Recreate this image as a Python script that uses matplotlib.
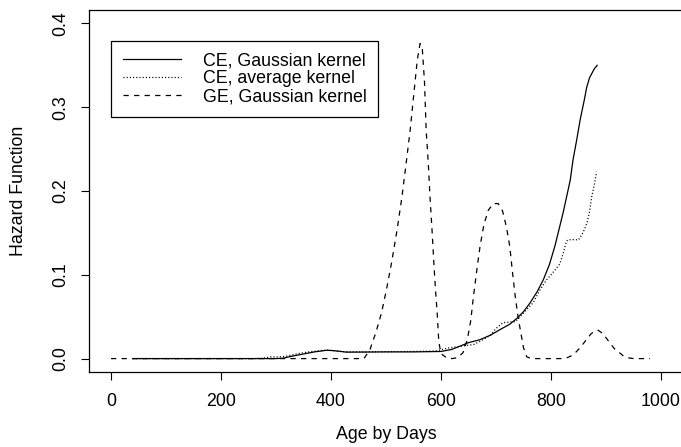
import matplotlib
matplotlib.use('Agg')
import matplotlib.pyplot as plt

plt.rcParams['font.family'] = ['Liberation Sans', 'DejaVu Sans']
plt.rcParams['lines.scale_dashes'] = False

# GE, Gaussian kernel (dashed)
ge_x = [0, 100, 200, 300, 400, 460, 471, 482, 492, 501, 510, 520, 529, 537, 544,
        552, 557, 562, 566, 570, 573, 577, 580, 584, 587, 590, 593, 596, 600, 610,
        620, 630, 640, 648, 654, 659, 665, 671, 678, 686, 695, 704, 712, 719, 725,
        730, 735, 740, 744, 750, 756, 765, 800, 820, 829, 836, 844, 853, 862, 872,
        880, 886, 894, 900, 907, 915, 925, 932, 940, 950, 965, 980]
ge_y = [0, 0, 0, 0, 0, 0, 0.011, 0.032, 0.055, 0.083, 0.114, 0.153, 0.193, 0.235, 0.273,
        0.325, 0.357, 0.376, 0.370, 0.330, 0.273, 0.232, 0.193, 0.150, 0.114, 0.082, 0.055, 0.020, 0.006, 0.001,
        0.000, 0.001, 0.007, 0.023, 0.045, 0.074, 0.105, 0.134, 0.160, 0.177, 0.185, 0.185, 0.176, 0.157, 0.134,
        0.103, 0.074, 0.050, 0.035, 0.013, 0.002, 0, 0, 0, 0.001, 0.003, 0.0068, 0.013, 0.0206, 0.029,
        0.0333, 0.0337, 0.030, 0.025, 0.0187, 0.012, 0.0068, 0.003, 0.001, 0, 0, 0]

# CE, Gaussian kernel (solid)
ceg_x = [40, 100, 200, 300, 313, 330, 350, 370, 392, 405, 428, 460, 500, 550, 600,
         620, 635, 650, 671, 690, 707, 725, 738, 750, 762, 775, 786, 797, 807, 816,
         822, 835, 840, 847, 853, 860, 865, 870, 874, 879, 884]
ceg_y = [0, 0, 0, 0, 0.0005, 0.003, 0.0055, 0.008, 0.0099, 0.0095, 0.0077, 0.0078, 0.008, 0.008, 0.0085,
         0.011, 0.015, 0.019, 0.0226, 0.028, 0.0345, 0.041, 0.048, 0.056, 0.0665, 0.080, 0.094, 0.112, 0.134, 0.158,
         0.174, 0.213, 0.237, 0.262, 0.285, 0.307, 0.324, 0.335, 0.340, 0.346, 0.350]

# CE, average kernel (dotted)
cea_x = [40, 100, 200, 260, 277, 290, 305, 320, 340, 360, 380, 395, 410, 430, 460,
         500, 550, 590, 616, 640, 660, 675, 690, 700, 713, 735, 744, 755, 768, 780,
         792, 800, 810, 816, 822, 828, 831, 840, 850, 858, 865, 870, 874, 878, 883]
cea_y = [0, 0, 0, 0, 0.0005, 0.002, 0.002, 0.003, 0.006, 0.008, 0.0095, 0.0102, 0.009, 0.008, 0.008,
         0.0082, 0.0085, 0.009, 0.013, 0.015, 0.017, 0.022, 0.028, 0.036, 0.043, 0.044, 0.050, 0.058, 0.067, 0.082,
         0.094, 0.100, 0.108, 0.113, 0.125, 0.140, 0.1417, 0.142, 0.1417, 0.150, 0.161, 0.175, 0.193, 0.205, 0.223]

x_ticks = [0, 200, 400, 600, 800, 1000]
y_ticks = [0.0, 0.1, 0.2, 0.3, 0.4]
y_tick_labels = ['0.0', '0.1', '0.2', '0.3', '0.4']

W, H = 681, 447
fig = plt.figure(figsize=(W / 100, H / 100), dpi=100)
# axes box: left 89px, right edge falls just outside the image, top 10px, bottom 372px
ax = fig.add_axes([89 / W, (H - 372) / H, (683 - 89) / W, (372 - 10) / H])

lw = 0.9
ax.plot(ceg_x, ceg_y, color='black', lw=lw, label='CE, Gaussian kernel')
ax.plot(cea_x, cea_y, color='black', lw=lw, linestyle=(0, (0.8, 1.5)), label='CE, average kernel')
ax.plot(ge_x, ge_y, color='black', lw=lw, linestyle=(0, (3.8, 3.8)), label='GE, Gaussian kernel')

ax.set_xlim(-40, 1040)
ax.set_ylim(-0.016, 0.416)
ax.set_xticks(x_ticks)
ax.set_yticks(y_ticks)
ax.set_yticklabels(y_tick_labels, rotation=90, va='center')

fs = 12.8
ax.tick_params(axis='both', direction='out', length=5.8, width=0.8, labelsize=fs)
ax.tick_params(axis='x', pad=9.5)
ax.tick_params(axis='y', pad=8.5)
for sp in ax.spines.values():
    sp.set_linewidth(0.9)
ax.spines['right'].set_visible(False)

ax.set_xlabel('Age by Days', fontsize=fs)
ax.set_ylabel('Hazard Function', fontsize=fs)
ax.xaxis.set_label_coords(0.5, -0.148)
ax.yaxis.set_label_coords(-0.104, 0.5)

leg = ax.legend(loc='upper left', bbox_to_anchor=(22 / 594, 1 - 30.7 / 362),
                fontsize=fs, frameon=True, fancybox=False, edgecolor='black',
                framealpha=1, borderpad=0.65, labelspacing=0.06,
                handlelength=3.28, handletextpad=1.24, borderaxespad=0)
leg.get_frame().set_linewidth(0.9)

fig.savefig('out.png', dpi=100)
